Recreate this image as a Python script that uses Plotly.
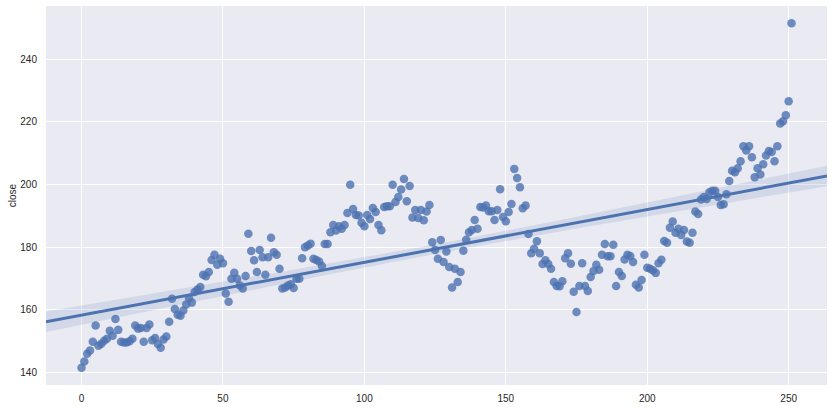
import numpy as np
import plotly.graph_objects as go

# x = trading-day index, y = closing price
day_index = list(range(252))
close = [
    141.5, 143.5, 146.0, 147.0, 149.8, 155.0, 148.5, 149.2, 150.1, 150.8,
    153.3, 151.7, 157.1, 153.6, 149.8, 149.6, 149.6, 150.0, 150.8, 155.0,
    154.0, 154.2, 149.8, 154.2, 155.3, 150.3, 151.0, 149.1, 147.9, 150.5,
    151.5, 156.2, 163.5, 160.3, 158.4, 158.1, 159.8, 161.7, 163.8, 162.3,
    165.7, 166.5, 167.3, 171.2, 170.7, 172.1, 175.9, 177.6, 174.4, 176.3,
    174.9, 165.2, 162.6, 169.9, 171.8, 169.9, 167.8, 166.8, 170.8, 184.3,
    178.8, 175.8, 172.1, 179.1, 176.8, 171.2, 176.8, 183.0, 178.4, 177.6,
    173.1, 166.8, 167.1, 167.8, 168.2, 167.0, 169.9, 169.9, 176.5, 180.0,
    180.5, 181.1, 176.3, 175.9, 175.4, 174.0, 181.0, 181.0, 184.8, 187.1,
    185.3, 186.7, 185.9, 187.1, 190.9, 199.9, 192.2, 190.3, 190.1, 187.8,
    186.7, 190.3, 189.0, 192.5, 191.2, 187.1, 185.4, 192.8, 193.1, 193.1,
    199.9, 194.4, 196.0, 198.4, 201.8, 194.7, 199.5, 189.5, 191.9, 189.3,
    191.9, 188.6, 191.4, 193.5, 181.6, 179.1, 176.3, 182.3, 175.3, 178.6,
    173.7, 167.1, 173.1, 168.9, 172.1, 178.9, 182.4, 184.8, 185.5, 188.7,
    185.9, 192.8, 192.7, 193.3, 191.5, 191.5, 188.7, 191.9, 198.5, 189.6,
    188.3, 191.2, 193.8, 205.0, 202.1, 199.1, 192.4, 193.3, 184.2, 178.1,
    179.5, 181.9, 178.1, 174.6, 175.8, 174.6, 173.1, 168.9, 167.6, 167.5,
    169.1, 176.5, 178.1, 174.7, 165.8, 159.3, 167.6, 174.9, 167.6, 166.0,
    170.5, 172.4, 174.4, 172.8, 177.6, 181.0, 177.1, 177.1, 180.8, 167.6,
    172.1, 170.8, 176.1, 177.6, 177.2, 175.3, 168.0, 167.1, 169.5, 177.6,
    173.4, 173.1, 172.6, 171.8, 174.9, 176.0, 182.0, 181.4, 186.2, 188.2,
    184.6, 185.9, 183.9, 185.5, 181.8, 181.4, 184.6, 191.4, 190.6, 195.2,
    196.0, 195.4, 197.5, 198.0, 198.0, 196.0, 193.5, 193.7, 196.9, 201.1,
    204.4, 203.9, 205.2, 207.4, 212.2, 210.9, 212.2, 208.7, 202.3, 205.2,
    203.2, 206.5, 209.3, 210.7, 210.4, 207.4, 212.2, 219.5, 220.2, 222.1,
    226.6, 251.5,
]
x_ticks = [0, 50, 100, 150, 200, 250]
y_ticks = [140, 160, 180, 200, 220, 240]
y_label = "close"

x = np.array(day_index, dtype=float)
y = np.array(close, dtype=float)

# axis limits like matplotlib (5% margins)
xpad = 0.05 * (x.max() - x.min())
ypad = 0.05 * (y.max() - y.min())
xlim = [x.min() - xpad, x.max() + xpad]
ylim = [y.min() - ypad, y.max() + ypad]

# linear fit + 95% CI band
slope, intercept = np.polyfit(x, y, 1)
grid = np.linspace(xlim[0], xlim[1], 200)
fit = intercept + slope * grid
n = len(x)
resid = y - (intercept + slope * x)
s = np.sqrt(np.sum(resid ** 2) / (n - 2))
sxx = np.sum((x - x.mean()) ** 2)
se = s * np.sqrt(1.0 / n + (grid - x.mean()) ** 2 / sxx)
ci = 1.97 * se

blue = "#4C72B0"
fig = go.Figure()
fig.add_trace(go.Scatter(
    x=x, y=y, mode="markers",
    marker=dict(color=blue, size=8.5, opacity=0.8, line=dict(width=0)),
    hoverinfo="skip", showlegend=False))
fig.add_trace(go.Scatter(
    x=grid, y=fit - ci, mode="lines", line=dict(width=0, color=blue),
    hoverinfo="skip", showlegend=False))
fig.add_trace(go.Scatter(
    x=grid, y=fit + ci, mode="lines", line=dict(width=0, color=blue),
    fill="tonexty", fillcolor="rgba(76,114,176,0.15)",
    hoverinfo="skip", showlegend=False))
fig.add_trace(go.Scatter(
    x=grid, y=fit, mode="lines", line=dict(width=3, color=blue),
    hoverinfo="skip", showlegend=False))

font = dict(family="Liberation Sans, Arial, sans-serif", size=10, color="#262626")
fig.update_layout(
    width=833, height=410,
    margin=dict(l=46, r=6, t=6, b=23),
    paper_bgcolor="white", plot_bgcolor="#EAEAF2",
    font=font,
    xaxis=dict(range=xlim, tickvals=x_ticks, showgrid=True, gridcolor="white",
               gridwidth=1, zeroline=False, showline=False,
               ticks="outside", ticklen=4, tickcolor="rgba(0,0,0,0)"),
    yaxis=dict(range=ylim, tickvals=y_ticks, showgrid=True, gridcolor="white",
               gridwidth=1, zeroline=False, showline=False,
               ticks="outside", ticklen=6, tickcolor="rgba(0,0,0,0)",
               title=dict(text=y_label, standoff=1, font=font)),
)
fig.write_html(
    "out.html",
    config={"displayModeBar": False},
    post_script="document.body.style.margin='0';document.body.style.overflow='hidden';",
)
